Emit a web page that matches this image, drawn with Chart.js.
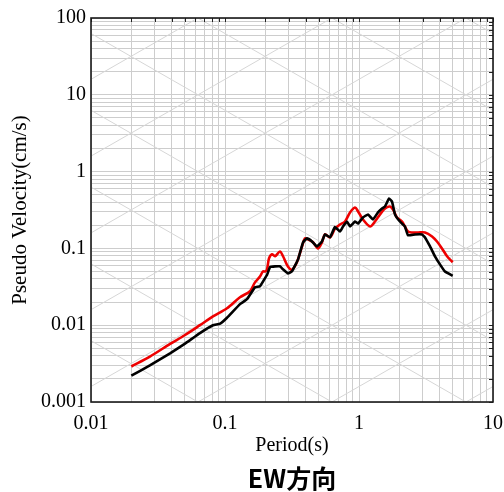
<!DOCTYPE html>
<html>
<head>
<meta charset="utf-8">
<script src="https://cdn.jsdelivr.net/npm/chart.js@4.4.1/dist/chart.umd.min.js"></script>
<style>
  html, body { margin: 0; padding: 0; background: #fff; }
  canvas { display: block; }
</style>
</head>
<body>
<canvas id="c" width="504" height="492"></canvas>
<script>
// Pseudo-velocity response spectra, EW component (period in s, velocity in cm/s)
const periodBlack = [0.02, 0.0275, 0.0389, 0.05, 0.065, 0.0813, 0.092, 0.1035, 0.1294, 0.146,
  0.1674, 0.1824, 0.199, 0.2057, 0.2167, 0.236, 0.257, 0.271, 0.295, 0.316,
  0.351, 0.382, 0.409, 0.446, 0.486, 0.529, 0.557, 0.608, 0.662, 0.721,
  0.760, 0.813, 0.857, 0.934, 0.984, 1.07, 1.167, 1.27, 1.386, 1.485,
  1.563, 1.675, 1.763, 1.857, 2.02, 2.20, 2.32, 2.62, 2.95, 3.11,
  3.39, 3.69, 4.02, 4.38, 5.0];
const velocityBlack = [0.0022, 0.0030, 0.0043, 0.0057, 0.0079, 0.0100, 0.0105, 0.0125, 0.0188, 0.0218,
  0.0312, 0.0321, 0.041, 0.045, 0.057, 0.0584, 0.0584, 0.0534, 0.0473, 0.0503,
  0.072, 0.1197, 0.135, 0.1233, 0.106, 0.1233, 0.152, 0.14, 0.19, 0.166,
  0.193, 0.224, 0.193, 0.224, 0.211, 0.253, 0.277, 0.238, 0.294, 0.331,
  0.351, 0.446, 0.408, 0.277, 0.224, 0.193, 0.148, 0.152, 0.152, 0.139,
  0.106, 0.079, 0.062, 0.050, 0.044];

const periodRed = [0.02, 0.0275, 0.0389, 0.05, 0.065, 0.0813, 0.1035, 0.1294, 0.1537, 0.1674,
  0.1824, 0.192, 0.199, 0.2057, 0.213, 0.2242, 0.236, 0.257, 0.271, 0.295,
  0.316, 0.344, 0.376, 0.395, 0.416, 0.454, 0.494, 0.529, 0.557, 0.608,
  0.662, 0.721, 0.786, 0.857, 0.934, 0.984, 1.07, 1.21, 1.316, 1.435,
  1.563, 1.70, 1.794, 1.92, 2.094, 2.20, 2.32, 2.49, 2.76, 3.11,
  3.51, 3.82, 4.16, 4.54, 5.0];
const velocityRed = [0.0029, 0.0039, 0.0057, 0.0074, 0.0100, 0.0130, 0.0166, 0.0231, 0.0277, 0.0361,
  0.043, 0.0503, 0.050, 0.053, 0.074, 0.084, 0.079, 0.091, 0.079, 0.058,
  0.053, 0.066, 0.106, 0.135, 0.131, 0.12, 0.1, 0.12, 0.152, 0.139,
  0.18, 0.205, 0.224, 0.294, 0.341, 0.303, 0.238, 0.193, 0.224, 0.277,
  0.331, 0.351, 0.321, 0.253, 0.224, 0.193, 0.166, 0.161, 0.161, 0.161,
  0.143, 0.123, 0.1, 0.079, 0.066];

// Axis decades and their labels
const xDecades = [0.01, 0.1, 1, 10];
const xTickLabels = ['0.01', '0.1', '1', '10'];
const yDecades = [0.001, 0.01, 0.1, 1, 10, 100];
const yTickLabels = ['0.001', '0.01', '0.1', '1', '10', '100'];

// Tripartite guide lines: constant displacement (cm) and constant acceleration (cm/s²)
const displacementLevels = [1e-5, 1e-4, 1e-3, 1e-2, 1e-1, 1, 10, 100];
const accelerationLevels = [1e-3, 1e-2, 1e-1, 1, 10, 100, 1e3, 1e4];

const xTitle = 'Period(s)';
const yTitle = 'Pseudo Velocity(cm/s)';
const captionText = 'EW方向';

// Log-grid positions: 1..9 times each decade
function logGridValues(decades) {
  const vals = [];
  for (let i = 0; i < decades.length - 1; i++) {
    for (let m = 1; m <= 9; m++) vals.push(+(decades[i] * m).toPrecision(6));
  }
  vals.push(decades[decades.length - 1]);
  return vals;
}
function decadeLabel(decades, labels, v) {
  const i = decades.findIndex(d => Math.abs(d - v) / d < 1e-6);
  return i >= 0 ? labels[i] : '';
}

const serif = '"Liberation Serif", "Times New Roman", serif';

const tripartiteGrid = {
  id: 'tripartiteGrid',
  beforeDatasetsDraw(chart) {
    const { ctx, chartArea: a, scales: { x, y } } = chart;
    const t0 = xDecades[0], t1 = xDecades[xDecades.length - 1];
    const twoPi = 2 * Math.PI;
    ctx.save();
    ctx.beginPath();
    ctx.rect(a.left, a.top, a.right - a.left, a.bottom - a.top);
    ctx.clip();
    ctx.strokeStyle = '#d6d6d6';
    ctx.lineWidth = 1;
    displacementLevels.forEach(d => {
      ctx.beginPath();
      ctx.moveTo(x.getPixelForValue(t0), y.getPixelForValue(twoPi * d / t0));
      ctx.lineTo(x.getPixelForValue(t1), y.getPixelForValue(twoPi * d / t1));
      ctx.stroke();
    });
    accelerationLevels.forEach(acc => {
      ctx.beginPath();
      ctx.moveTo(x.getPixelForValue(t0), y.getPixelForValue(acc * t0 / twoPi));
      ctx.lineTo(x.getPixelForValue(t1), y.getPixelForValue(acc * t1 / twoPi));
      ctx.stroke();
    });
    ctx.restore();
  }
};

const frameAndCaption = {
  id: 'frameAndCaption',
  afterDraw(chart) {
    const { ctx, chartArea: a, scales: { x, y } } = chart;
    ctx.save();
    // inward minor ticks on top and right edges
    ctx.strokeStyle = '#222';
    ctx.lineWidth = 1;
    x.ticks.forEach(t => {
      const px = Math.round(x.getPixelForValue(t.value)) + 0.5;
      ctx.beginPath(); ctx.moveTo(px, a.top); ctx.lineTo(px, a.top + 4); ctx.stroke();
    });
    y.ticks.forEach(t => {
      const py = Math.round(y.getPixelForValue(t.value)) + 0.5;
      ctx.beginPath(); ctx.moveTo(a.right, py); ctx.lineTo(a.right - 4, py); ctx.stroke();
    });
    // frame
    ctx.strokeStyle = '#1a1a1a';
    ctx.lineWidth = 1.6;
    ctx.strokeRect(a.left, a.top, a.right - a.left, a.bottom - a.top);
    // caption
    ctx.fillStyle = '#000';
    ctx.font = 'bold 25px "Noto Sans CJK JP", "Noto Sans CJK SC", sans-serif';
    ctx.textAlign = 'center';
    ctx.textBaseline = 'middle';
    ctx.fillText(captionText, (a.left + a.right) / 2, 478);
    ctx.restore();
  }
};

new Chart(document.getElementById('c'), {
  type: 'line',
  data: {
    datasets: [
      {
        data: periodBlack.map((t, i) => ({ x: t, y: velocityBlack[i] })),
        borderColor: '#000000',
        borderWidth: 2.6,
        pointRadius: 0,
        tension: 0.1,
        fill: false
      },
      {
        data: periodRed.map((t, i) => ({ x: t, y: velocityRed[i] })),
        borderColor: '#ee0000',
        borderWidth: 2.6,
        pointRadius: 0,
        tension: 0.3,
        fill: false
      }
    ]
  },
  options: {
    responsive: false,
    animation: false,
    devicePixelRatio: 1,
    layout: { padding: { top: 18, right: 11, left: 0, bottom: 0 } },
    plugins: { legend: { display: false }, tooltip: { enabled: false } },
    scales: {
      x: {
        type: 'logarithmic',
        min: xDecades[0],
        max: xDecades[xDecades.length - 1],
        afterBuildTicks: s => { s.ticks = logGridValues(xDecades).map(v => ({ value: v })); },
        afterFit: s => { s.height = 90; s.paddingLeft = 0; s.paddingRight = 0; },
        grid: { color: '#cdcdcd', lineWidth: 1, drawTicks: false },
        border: { display: false },
        ticks: {
          autoSkip: false, maxRotation: 0, minRotation: 0, padding: 10,
          color: '#000', font: { family: serif, size: 20 },
          callback: v => decadeLabel(xDecades, xTickLabels, v)
        },
        title: {
          display: true, text: xTitle, color: '#000',
          font: { family: serif, size: 20 }, padding: { top: 0, bottom: 34 }
        }
      },
      y: {
        type: 'logarithmic',
        min: yDecades[0],
        max: yDecades[yDecades.length - 1],
        afterBuildTicks: s => { s.ticks = logGridValues(yDecades).map(v => ({ value: v })); },
        afterFit: s => { s.width = 91; s.paddingTop = 0; s.paddingBottom = 0; },
        grid: { color: '#cdcdcd', lineWidth: 1, drawTicks: false },
        border: { display: false },
        ticks: {
          autoSkip: false, padding: 5,
          color: '#000', font: { family: serif, size: 20 },
          callback: v => decadeLabel(yDecades, yTickLabels, v)
        },
        title: {
          display: true, text: yTitle, color: '#000',
          font: { family: serif, size: 21 }, padding: { top: 8, bottom: 0 }
        }
      }
    }
  },
  plugins: [tripartiteGrid, frameAndCaption]
});
</script>
</body>
</html>
